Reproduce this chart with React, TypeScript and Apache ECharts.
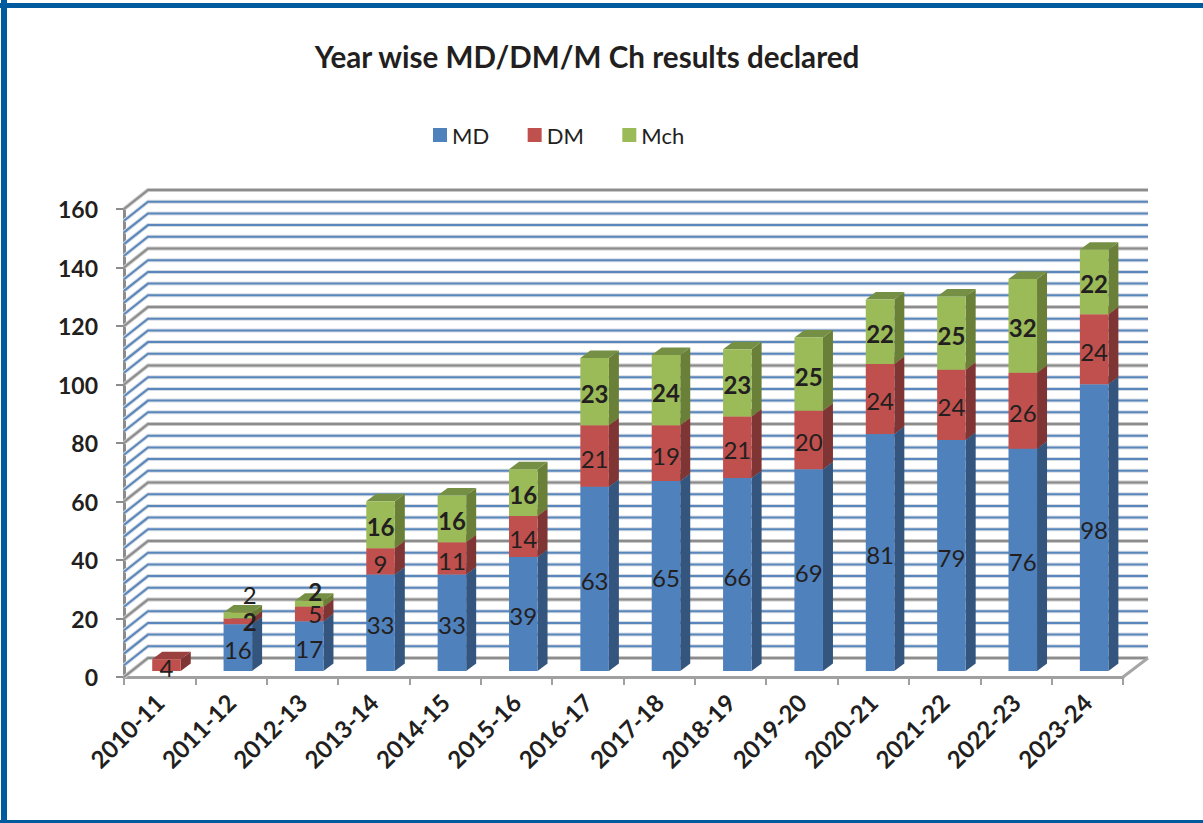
import React, { useEffect, useRef } from "react";
import * as echarts from "echarts";

const categories = ["2010-11","2011-12","2012-13","2013-14","2014-15","2015-16","2016-17","2017-18","2018-19","2019-20","2020-21","2021-22","2022-23","2023-24"];
const mdValues = [0,16,17,33,33,39,63,65,66,69,81,79,76,98];
const dmValues = [4,2,5,9,11,14,21,19,21,20,24,24,26,24];
const mchValues = [0,2,2,16,16,16,23,24,23,25,22,25,32,22];
const gridValues = [0,4,8,12,16,20,24,28,32,36,40,44,48,52,56,60,64,68,72,76,80,84,88,92,96,100,104,108,112,116,120,124,128,132,136,140,144,148,152,156,160];

const FONT = "Lato, 'Open Sans', sans-serif";
const TEXT = "#231f20";
const WALL_DX = 24, WALL_DY = -19;
const BAR_DX = 6.8, BAR_DY = -6, SIDE_DX = 10, SIDE_DY = -7.5;

const palette = [
  { name: "MD", values: mdValues, front: "#4f81bd", side: "#33557e", top: "#3f6797" },
  { name: "DM", values: dmValues, front: "#c0504d", side: "#7f3533", top: "#9a403e" },
  { name: "Mch", values: mchValues, front: "#9bbb59", side: "#6a8039", top: "#759044" },
];

const barRows = (k: number) =>
  palette[k].values.map((v, i) => {
    let start = 0;
    for (let j = 0; j < k; j++) start += palette[j].values[i];
    return [i, start, start + v, v];
  });

function renderWall(params: any, api: any) {
  const v = api.value(1);
  const cs = params.coordSys;
  const y = api.coord([0, v])[1];
  const major = v % 20 === 0;
  const pts = [[cs.x, y], [cs.x + WALL_DX, y + WALL_DY], [cs.x + cs.width + WALL_DX + 1, y + WALL_DY]];
  const children: any[] = [
    { type: "polyline", shape: { points: pts }, style: { fill: "none", stroke: major ? "#c9c9c9" : "#d6dce4", lineWidth: 4 } },
    { type: "polyline", shape: { points: pts }, style: { fill: "none", stroke: major ? "#8c8c8c" : "#5a87bb", lineWidth: 2 } },
  ];
  if (v === 0) {
    children.push({
      type: "line",
      shape: { x1: cs.x + cs.width, y1: y, x2: cs.x + cs.width + WALL_DX + 1, y2: y + WALL_DY },
      style: { stroke: "#a6a6a6", lineWidth: 3 },
    });
  }
  return { type: "group", children };
}

const renderBar = (k: number) => (params: any, api: any) => {
  if (api.value(3) === 0) return null;
  const p0 = api.coord([api.value(0), api.value(1)]);
  const p1 = api.coord([api.value(0), api.value(2)]);
  const w = api.size([1, 0])[0] * 0.4;
  const x0 = p0[0] + BAR_DX - w / 2;
  const x1 = x0 + w;
  const yb = p0[1] + BAR_DY;
  const yt = p1[1] + BAR_DY;
  const c = palette[k];
  return {
    type: "group",
    children: [
      { type: "polygon", shape: { points: [[x1, yb], [x1 + SIDE_DX, yb + SIDE_DY], [x1 + SIDE_DX, yt + SIDE_DY], [x1, yt]] }, style: { fill: c.side } },
      { type: "polygon", shape: { points: [[x0, yt], [x0 + SIDE_DX, yt + SIDE_DY], [x1 + SIDE_DX, yt + SIDE_DY], [x1, yt]] }, style: { fill: c.top } },
      { type: "rect", shape: { x: x0, y: yt, width: w, height: yb - yt }, style: { fill: c.front } },
    ],
  };
};

// Labels the reference moved away from the middle of their segment: "series:category" -> [dx, dy]
const labelNudges: Record<string, number[]> = {
  "1:1": [12, -29],
  "2:1": [12, 4],
  "1:2": [6, -2],
  "2:2": [6, -14],
};

const renderLabel = (k: number) => (params: any, api: any) => {
  const value = api.value(3);
  if (value === 0) return null;
  const idx = api.value(0);
  const p = api.coord([idx, (api.value(1) + api.value(2)) / 2]);
  const n = labelNudges[k + ":" + idx] || [0, 0];
  return {
    type: "text",
    style: {
      text: String(value),
      x: p[0] + BAR_DX + n[0],
      y: p[1] + BAR_DY + 2 + n[1],
      align: "center",
      verticalAlign: "middle",
      fontFamily: FONT,
      fontSize: 24,
      fontWeight: k === 2 ? "bold" : "normal",
      fill: TEXT,
    },
  };
};

export default function App() {
  const ref = useRef<HTMLDivElement>(null);
  useEffect(() => {
    if (!ref.current) return;
    const chart = echarts.init(ref.current, undefined, { renderer: "svg" });
    const barSeries = palette.map((c, k) => ({
      type: "custom",
      name: c.name,
      renderItem: renderBar(k),
      data: barRows(k),
      encode: { x: 0, y: [1, 2] },
      itemStyle: { color: c.front },
      silent: true,
      z: 3,
    }));
    const labelSeries = palette.map((c, k) => ({
      type: "custom",
      name: c.name + " labels",
      renderItem: renderLabel(k),
      data: barRows(k),
      encode: { x: 0, y: [1, 2] },
      silent: true,
      z: 5,
    }));
    chart.setOption({
      animation: false,
      backgroundColor: "#ffffff",
      title: {
        text: "Year wise MD/DM/M Ch results declared",
        left: 582,
        textAlign: "center",
        top: 36,
        textStyle: { fontFamily: FONT, fontSize: 29.6, fontWeight: "bold", color: TEXT },
      },
      legend: {
        data: palette.map((c) => c.name),
        left: 428,
        top: 119,
        icon: "rect",
        itemWidth: 14,
        itemHeight: 14,
        itemGap: 38.5,
        textStyle: { fontFamily: FONT, fontSize: 22, color: TEXT },
      },
      grid: { left: 124, width: 999, top: 209, height: 468 },
      xAxis: {
        type: "category",
        data: categories,
        axisLine: { lineStyle: { color: "#a0a0a0", width: 3 } },
        axisTick: { show: true, alignWithLabel: false, length: 8, lineStyle: { color: "#a0a0a0", width: 2 } },
        axisLabel: { interval: 0, rotate: 45, margin: 21, fontFamily: FONT, fontSize: 24, fontWeight: "bold", color: TEXT },
      },
      yAxis: {
        type: "value",
        min: 0,
        max: 160,
        interval: 20,
        splitLine: { show: false },
        axisLine: { show: true, lineStyle: { color: "#8c8c8c", width: 3 } },
        axisTick: { show: true, length: 8, lineStyle: { color: "#8c8c8c", width: 2 } },
        axisLabel: { margin: 26, fontFamily: FONT, fontSize: 23, fontWeight: "bold", color: TEXT },
      },
      graphic: [
        { type: "rect", shape: { x: -10, y: 5.5, width: 1300, height: 817 }, style: { fill: "none", stroke: "#005a9e", lineWidth: 5 }, silent: true },
        { type: "rect", shape: { x: 1, y: 0, width: 6, height: 823 }, style: { fill: "#005a9e" }, silent: true },
      ],
      series: [
        {
          type: "custom",
          name: "wall",
          renderItem: renderWall,
          data: gridValues.map((v) => [0, v]),
          encode: { x: 0, y: 1 },
          silent: true,
          z: 1,
        },
        ...barSeries,
        ...labelSeries,
      ],
    });
    return () => chart.dispose();
  }, []);
  return <div ref={ref} style={{ position: "fixed", left: 0, top: 0, width: 1203, height: 823 }} />;
}
